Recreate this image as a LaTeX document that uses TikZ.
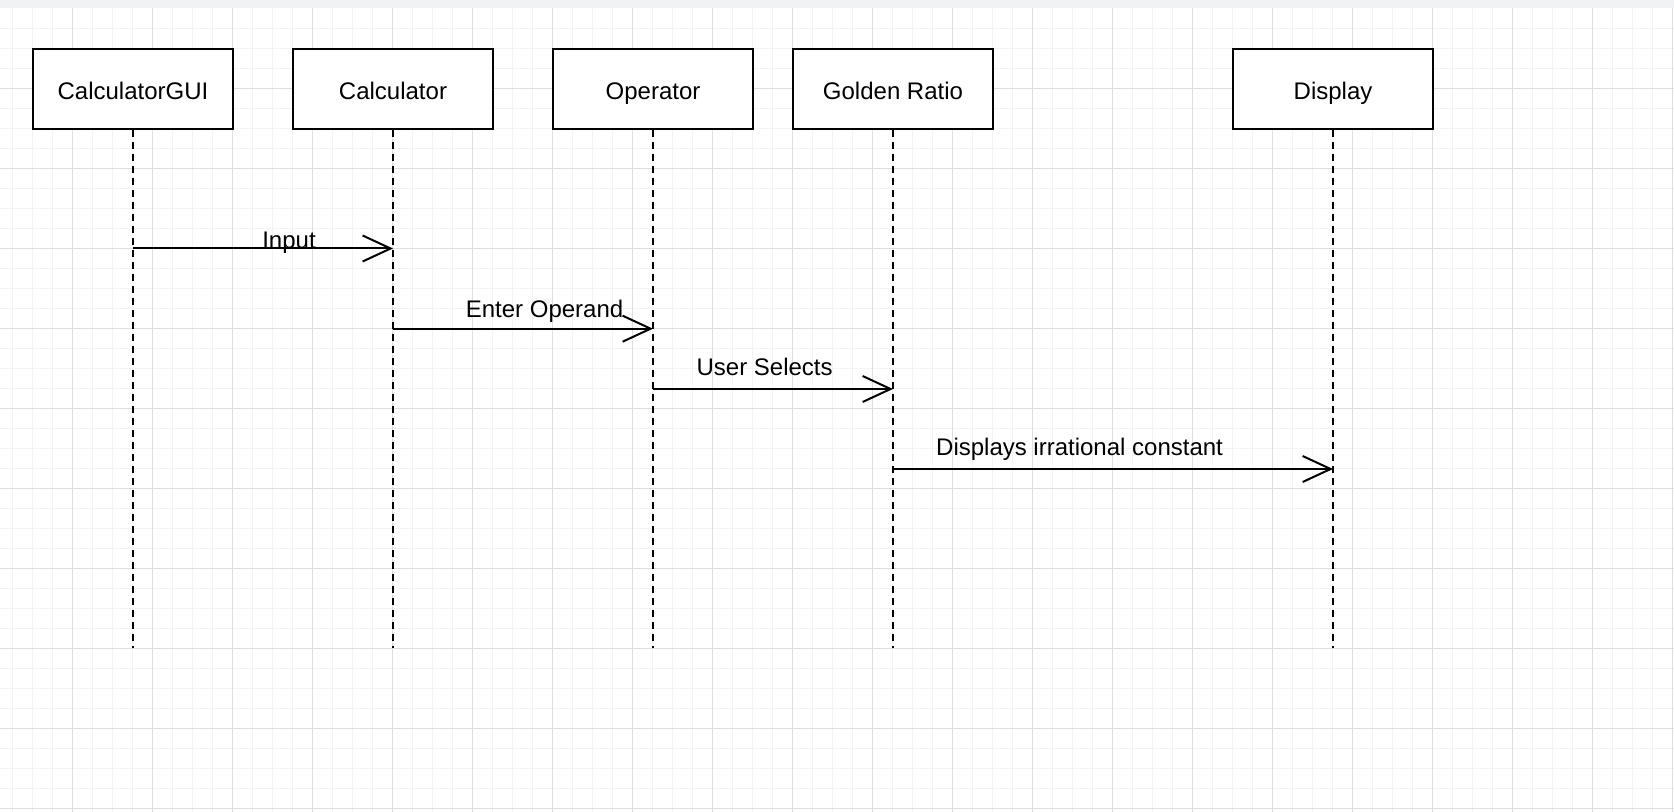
\documentclass[tikz,border=0pt]{standalone}
\usepackage{fontspec}
\setmainfont{Liberation Sans}
\usepackage{tikz}
\usetikzlibrary{calc}
\usetikzlibrary{arrows.meta}
\usetikzlibrary{positioning}
\definecolor{minorline}{HTML}{F3F3F3}
\definecolor{majorline}{HTML}{DEDEDE}
\definecolor{topbar}{HTML}{F1F2F4}
\tikzset{actor/.style={draw, line width=1pt, fill=white, minimum width=100pt, minimum height=40pt, inner sep=0pt, text height=11pt, text depth=0pt, font=\fontsize{12}{14}\selectfont}}
\tikzset{msglabel/.style={anchor=base, inner sep=0pt, font=\fontsize{12}{14}\selectfont}}
\tikzset{lifeline/.style={line width=1pt, dash pattern=on 3.5pt off 2.5pt}}

\begin{document}
\begin{tikzpicture}[x=0.5pt, y=-0.5pt]
\tikzstyle{msgedge} = [line width=1pt, -{Straight Barb[length=14pt, width=13pt, line width=1pt]}]
\useasboundingbox (0,0) rectangle (1674,812);
% background grid
\fill[white] (0,0) rectangle (1674,812);
\fill[topbar] (0,0) rectangle (1674,8);
\foreach \gx in {12.7,32.7,...,1673} \draw[minorline, line width=0.5pt] (\gx,8) -- (\gx,812);
\foreach \gy in {28.3,48.3,...,812} \draw[minorline, line width=0.5pt] (0,\gy) -- (1674,\gy);
\foreach \gx in {72.7,152.7,...,1673} \draw[majorline, line width=0.5pt] (\gx,8) -- (\gx,812);
\foreach \gy in {88.3,168.3,...,812} \draw[majorline, line width=0.5pt] (0,\gy) -- (1674,\gy);

% participants
\node[actor](gui) at (133, 89){CalculatorGUI};
\node[actor](calc) at (393, 89){Calculator};
\node[actor](oper) at (653, 89){Operator};
\node[actor](golden) at (893, 89){Golden Ratio};
\node[actor](disp) at (1333, 89){Display};

% lifelines
\coordinate (guiend) at (133, 648);
\coordinate (calcend) at (393, 648);
\coordinate (operend) at (653, 648);
\coordinate (goldenend) at (893, 648);
\coordinate (dispend) at (1333, 648);
\draw[lifeline] (gui.south) -- (guiend);
\draw[lifeline] (calc.south) -- (calcend);
\draw[lifeline] (oper.south) -- (operend);
\draw[lifeline] (golden.south) -- (goldenend);
\draw[lifeline] (disp.south) -- (dispend);

% messages
\coordinate (m1) at (0, 248.5);
\coordinate (m2) at (0, 328.7);
\coordinate (m3) at (0, 389);
\coordinate (m4) at (0, 469);
\draw[msgedge] (gui |- m1) -- node[msglabel, pos=0.6]{Input} (calc |- m1);
\draw[msgedge] (calc |- m2) -- node[msglabel, pos=0.583, yshift=5.7pt]{Enter Operand} (oper |- m2);
\draw[msgedge] (oper |- m3) -- node[msglabel, pos=0.465, yshift=7pt]{User Selects} (golden |- m3);
\draw[msgedge] (golden |- m4) -- node[msglabel, pos=0.424, yshift=7pt]{Displays irrational constant} (disp |- m4);
\end{tikzpicture}
\end{document}
